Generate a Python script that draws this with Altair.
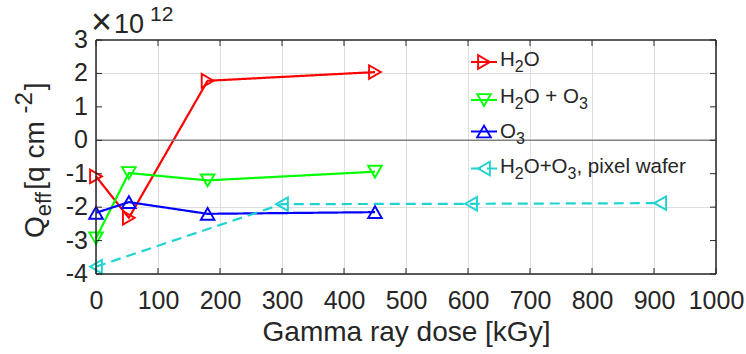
import altair as alt
import pandas as pd

FONT = "Arial, Liberation Sans, Helvetica, sans-serif"
INK = "#262626"
W, H = 620, 234

# Gamma ray dose [kGy]
dose = [0, 53, 180, 450]
dose_pixel = [0, 300, 605, 910]

# Effective charge Q_eff in units of 1e12 q/cm^2
q_h2o = [-1.08, -2.32, 1.78, 2.04]
q_h2o_o3 = [-2.93, -0.98, -1.20, -0.94]
q_o3 = [-2.17, -1.85, -2.20, -2.15]
q_pixel = [-3.78, -1.91, -1.90, -1.88]

series_names = ["H2O", "H2O + O3", "O3", "H2O+O3, pixel wafer"]
series_colors = ["#ff0000", "#00ff00", "#0000ff", "#1fd3d3"]
series_shapes = ["triangle-right", "triangle-down", "triangle-up", "triangle-left"]
series_dashes = [[1, 0], [1, 0], [1, 0], [10, 6]]

x_ticks = list(range(0, 1001, 100))
y_ticks = list(range(-4, 4))

rows = []
for name, xs, ys in zip(series_names,
                        [dose, dose, dose, dose_pixel],
                        [q_h2o, q_h2o_o3, q_o3, q_pixel]):
    for xv, yv in zip(xs, ys):
        rows.append({"series": name, "dose": xv, "q": yv})
df = pd.DataFrame(rows)

x_enc = alt.X(
    "dose:Q",
    scale=alt.Scale(domain=[0, 1000], nice=False, zero=False),
    axis=alt.Axis(
        values=x_ticks, format="d", grid=True, gridColor="#dedede", gridWidth=1,
        domain=False, ticks=False, tickSize=0,
        labelFont=FONT, labelFontSize=25, labelColor=INK, labelPadding=34,
        labelBaseline="alphabetic", labelFlush=False, labelOverlap=False,
        title="Gamma ray dose [kGy]", titleFont=FONT, titleFontSize=28,
        titleFontWeight="normal", titleColor=INK, titleBaseline="alphabetic",
        titleAlign="center", titleX=W / 2, titleY=66,
    ),
)
y_enc = alt.Y(
    "q:Q",
    scale=alt.Scale(domain=[-4, 3], nice=False, zero=False),
    axis=alt.Axis(
        values=y_ticks, grid=True, gridColor="#dedede", gridWidth=1,
        domain=False, ticks=False, tickSize=0, labels=False, title=None,
    ),
)

color = alt.Color("series:N", scale=alt.Scale(domain=series_names, range=series_colors), legend=None)
shape = alt.Shape("series:N", scale=alt.Scale(domain=series_names, range=series_shapes), legend=None)
dash = alt.StrokeDash("series:N", scale=alt.Scale(domain=series_names, range=series_dashes), legend=None)

MARK_SIZE = 185
base = alt.Chart(df)
lines = base.mark_line(strokeWidth=2.2).encode(x=x_enc, y=y_enc, color=color, strokeDash=dash)
points = base.mark_point(filled=False, size=MARK_SIZE, strokeWidth=1.9, opacity=1).encode(
    x="dose:Q", y="q:Q", color=color, shape=shape
)

one = alt.Data(values=[{"k": 1}])
zero_line = alt.Chart(one).mark_rule(color="#808080", strokeWidth=1.5).encode(
    x=alt.datum(0), x2=alt.datum(1000), y=alt.datum(0)
)

# frame around the plot area
frame = [
    alt.Chart(one).mark_rule(color=INK, strokeWidth=1.5).encode(x=alt.datum(0), x2=alt.datum(1000), y=alt.datum(3)),
    alt.Chart(one).mark_rule(color=INK, strokeWidth=1.5).encode(x=alt.datum(0), x2=alt.datum(1000), y=alt.datum(-4)),
    alt.Chart(one).mark_rule(color=INK, strokeWidth=1.5).encode(y=alt.datum(-4), y2=alt.datum(3), x=alt.datum(0)),
    alt.Chart(one).mark_rule(color=INK, strokeWidth=1.5).encode(y=alt.datum(-4), y2=alt.datum(3), x=alt.datum(1000)),
]

# inward tick marks on all four sides
xt = pd.DataFrame({"dose": x_ticks})
yt = pd.DataFrame({"q": y_ticks, "label": [str(v) for v in y_ticks]})
TL = 6
ticks = [
    alt.Chart(xt).mark_rule(color=INK, strokeWidth=1).encode(x="dose:Q", y=alt.value(H), y2=alt.value(H - TL)),
    alt.Chart(xt).mark_rule(color=INK, strokeWidth=1).encode(x="dose:Q", y=alt.value(0), y2=alt.value(TL)),
    alt.Chart(yt).mark_rule(color=INK, strokeWidth=1).encode(y="q:Q", x=alt.value(0), x2=alt.value(TL)),
    alt.Chart(yt).mark_rule(color=INK, strokeWidth=1).encode(y="q:Q", x=alt.value(W), x2=alt.value(W - TL)),
]

# y tick labels (plain hyphen minus)
y_labels = alt.Chart(yt).mark_text(
    font=FONT, fontSize=25, color=INK, align="right", baseline="middle"
).encode(y="q:Q", x=alt.value(-8), text="label:N")

# Arial advance widths (per 1000 em) for rich-text layout
ADV = {' ': 278, '\u00a0': 278, '[': 278, ']': 278, 'q': 556, 'c': 500, 'm': 833,
       'e': 556, 'f': 278, 'Q': 778, '-': 333, '2': 556, 'H': 722, 'O': 778, '+': 584,
       '3': 556, ',': 278, 'p': 556, 'i': 222, 'x': 500, 'l': 222, 'w': 722, 'a': 556,
       'r': 333, '1': 556, '0': 556}


def text_layer(text, x, y, size, angle=0):
    return alt.Chart(one).mark_text(
        text=text, font=FONT, fontSize=size, color=INK, align="left",
        baseline="alphabetic", angle=angle,
    ).encode(x=alt.value(x), y=alt.value(y))


def rich(pieces, x0, y0, main, small, sub_shift, sup_shift, vertical=False, gap=0.0, sup_size=None):
    out = []
    cur = 0.0
    for txt, role in pieces:
        if role == "n":
            size, off = main, 0
        elif role == "sub":
            size, off = small, sub_shift
        else:
            size, off = (sup_size or small), -sup_shift
        if vertical:
            out.append(text_layer(txt, x0 + off, y0 - cur, size, angle=270))
        else:
            out.append(text_layer(txt, x0 + cur, y0 + off, size))
        cur += sum(ADV.get(ch, 556) for ch in txt) * size / 1000.0
        if role != "n":
            cur += gap
    return out


NB = "\u00a0"
# y axis title: Q_eff [q cm^-2]
ytitle = rich([("Q", "n"), ("eff", "sub"), (NB + "[q" + NB + "cm", "n"), ("-2", "sup"), ("]", "n")],
              -52, 198, 28, 22, 7, 12, vertical=True, gap=2, sup_size=24)

# exponent label above the axis
expo = [
    text_layer("×", -5, -6, 36),
    text_layer("10", 18, -7, 27),
    text_layer("12", 54, -19, 21),
]

# legend
leg_labels = [
    [("H", "n"), ("2", "sub"), ("O", "n")],
    [("H", "n"), ("2", "sub"), ("O" + NB + "+" + NB + "O", "n"), ("3", "sub")],
    [("O", "n"), ("3", "sub")],
    [("H", "n"), ("2", "sub"), ("O+O", "n"), ("3", "sub"), ("," + NB + "pixel wafer", "n")],
]
leg_line_y = [22, 60, 91.5, 128.5]
leg_text_y = [26, 63, 98, 133]
legend = []
for i, name in enumerate(series_names):
    ld = alt.Data(values=[{"series": name}])
    legend.append(
        alt.Chart(ld).mark_rule(strokeWidth=2.2, color=series_colors[i],
                                strokeDash=series_dashes[i]).encode(
            x=alt.value(375), x2=alt.value(401), y=alt.value(leg_line_y[i]))
    )
    legend.append(
        alt.Chart(ld).mark_point(filled=False, size=MARK_SIZE, strokeWidth=1.9, opacity=1,
                                 color=series_colors[i], shape=series_shapes[i]).encode(
            x=alt.value(388), y=alt.value(leg_line_y[i]))
    )
    legend += rich(leg_labels[i], 404, leg_text_y[i], 20.5, 16, 6, 8)

chart = alt.layer(
    lines, zero_line, points, *ticks, *frame, y_labels, *ytitle, *expo, *legend
).properties(
    width=W, height=H,
    autosize=alt.AutoSizeParams(type="none"),
    padding={"left": 96, "top": 40, "right": 30, "bottom": 80},
    background="white",
).configure_view(stroke=None).configure_axis(labelOverlap=False, labelBound=False)

chart.save("out.html", embed_options={"renderer": "svg", "actions": False})
